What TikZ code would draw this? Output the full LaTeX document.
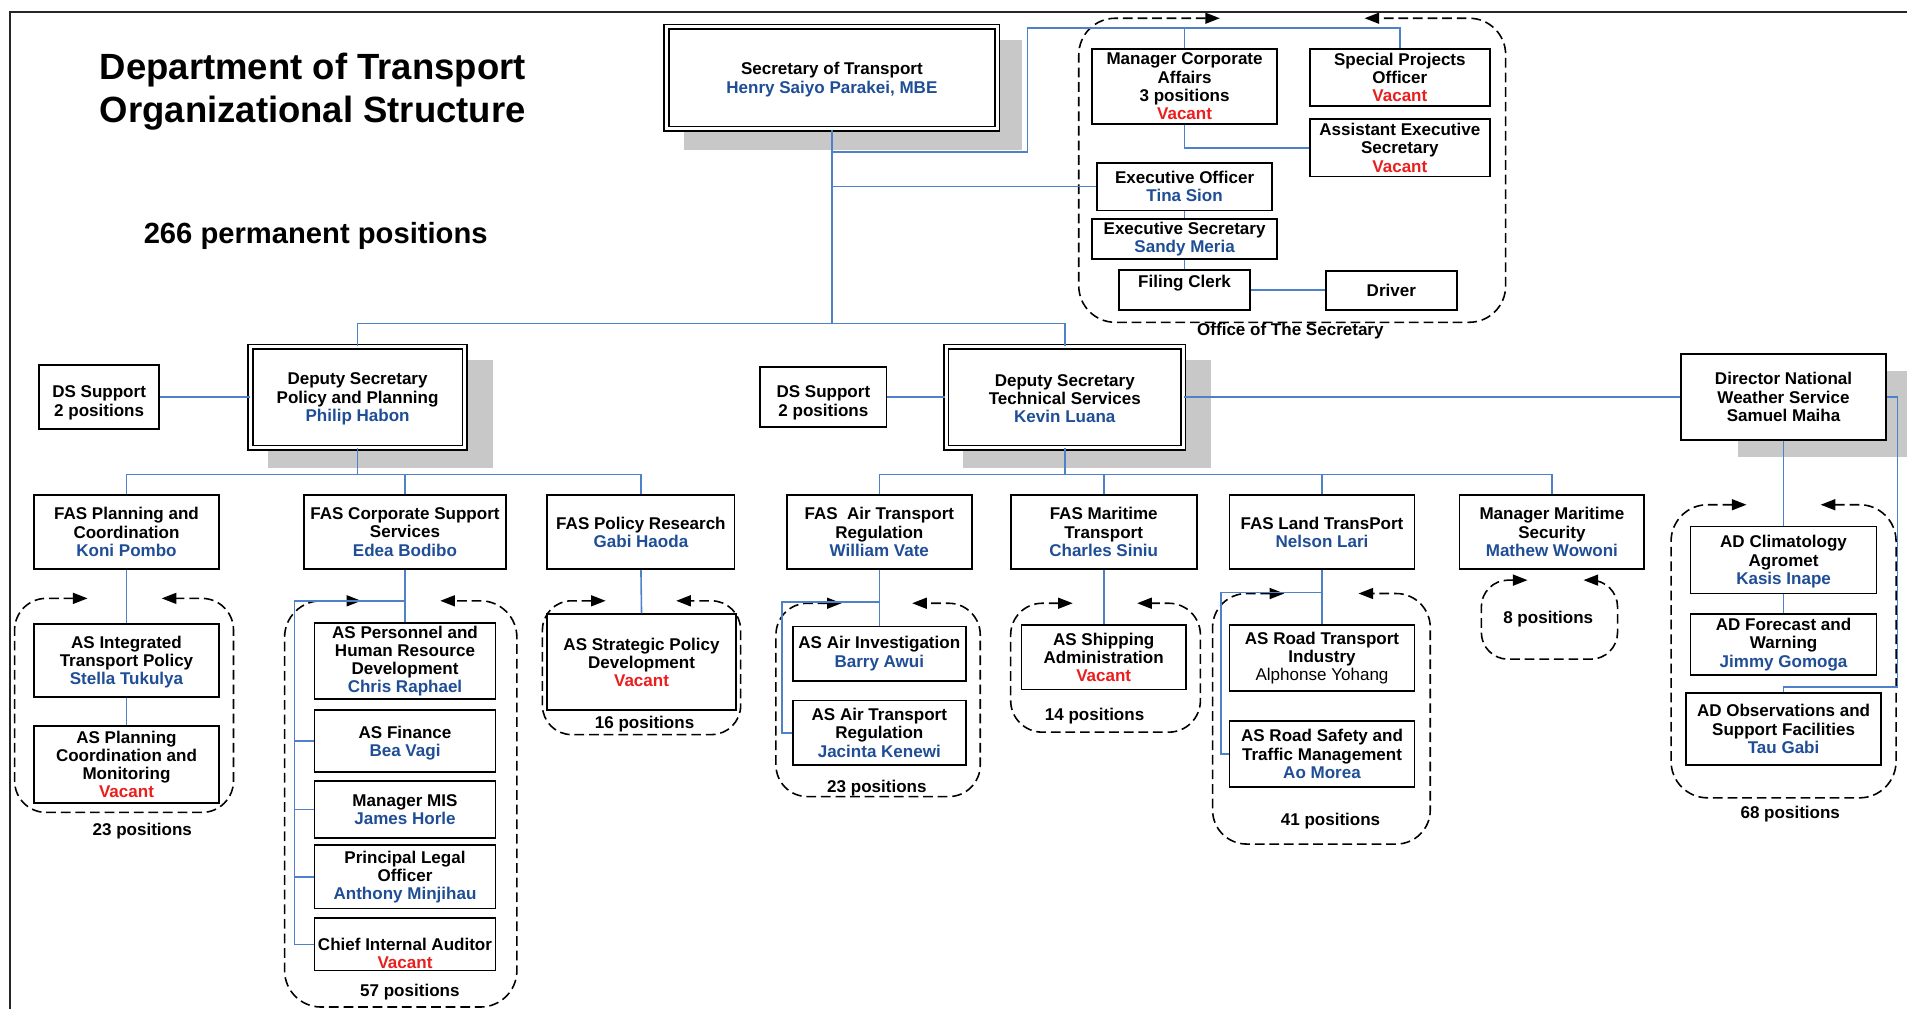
\documentclass[tikz,border=0pt]{standalone}
\usepackage{fontspec}
\setmainfont{Liberation Sans}
\usetikzlibrary{arrows.meta}
\definecolor{nameblue}{RGB}{31,78,150}
\definecolor{vacred}{RGB}{235,30,30}
\definecolor{linkblue}{RGB}{79,129,200}
\definecolor{shadowgray}{RGB}{200,200,200}
\newcommand\nm[1]{\textcolor{nameblue}{#1}}
\newcommand\vac{\textcolor{vacred}{Vacant}}
\newcommand\grpbox[7]{\draw[grp, rounded corners=#7] (#5,#2) -- (#1,#2) -- (#1,#4) -- (#3,#4) -- (#3,#2) -- (#6,#2);}
\begin{document}
\begin{tikzpicture}[x=1pt,y=-1pt,
  box/.style={draw=black, line width=1.4pt, fill=white, align=center, inner sep=1pt, font=\fontsize{14}{15}\selectfont\bfseries},
  dbox/.style={box, double=white, double distance=2.4pt, line width=1.3pt},
  link/.style={draw=linkblue, line width=1.3pt},
  grp/.style={draw=black, line width=1.3pt, dash pattern=on 8pt off 4pt, {Triangle[length=12pt,width=9pt]}-{Triangle[length=12pt,width=9pt]}},
  shade/.style={fill=shadowgray, draw=none},
  lbl/.style={font=\fontsize{14}{15}\selectfont\bfseries, inner sep=0pt}
]
\useasboundingbox (0,0) rectangle (1568,830);
\fill[white] (0,0) rectangle (1568,830);
% frame
\draw[line width=1.8pt, black!85] (8,830) -- (8,10) -- (1568,10);

% titles
\node[anchor=base west, inner sep=0pt, font=\fontsize{30}{36}\selectfont\bfseries] (title1) at (82,65) {Department of Transport};
\node[anchor=base west, inner sep=0pt, font=\fontsize{30}{36}\selectfont\bfseries] (title2) at (82,101) {Organizational Structure};
\node[anchor=base west, inner sep=0pt, font=\fontsize{24}{28}\selectfont\bfseries] (perm) at (118,200) {266 permanent positions};

% shadows
\fill[shade] (562,33) rectangle (840,123);
\fill[shade] (220,296) rectangle (405,385);
\fill[shade] (792,296) rectangle (996,385);
\fill[shade] (1429,305) rectangle (1568,376);

% dashed groups
\grpbox{887}{15}{1238}{265}{1003}{1122}{30pt}
\grpbox{12}{492}{192}{668}{72}{133}{26pt}
\grpbox{234}{494}{425}{828}{297}{362}{30pt}
\grpbox{446}{494}{609}{604}{498}{556}{24pt}
\grpbox{638}{496}{806}{655}{692}{750}{26pt}
\grpbox{831}{496}{987}{602}{882}{935}{26pt}
\grpbox{997}{488}{1176}{694}{1056}{1117}{28pt}
\grpbox{1218}{477}{1330}{542}{1256}{1302}{22pt}
\grpbox{1374}{415}{1559}{656}{1436}{1497}{30pt}

% secretary and office
\node[dbox, minimum width=272pt, minimum height=84pt] (sec) at (684,64) {\rule{0pt}{13pt}Secretary of Transport\\\nm{Henry Saiyo Parakei, MBE}};
\node[box, minimum width=152pt, minimum height=62pt] (mca) at (974,71) {Manager Corporate\\Affairs\\3 positions\\\vac};
\node[box, minimum width=148pt, minimum height=47pt] (spo) at (1151,63.5) {Special Projects\\Officer\\\vac};
\node[box, minimum width=148pt, minimum height=47pt] (aes) at (1151,121.5) {Assistant Executive\\Secretary\\\vac};
\node[box, minimum width=144pt, minimum height=39pt] (eo) at (974,153.5) {Executive Officer\\\nm{Tina Sion}};
\node[box, minimum width=152pt, minimum height=33pt] (es) at (974,196.5) {Executive Secretary\\\nm{Sandy Meria}};
\node[box, minimum width=108pt, minimum height=33pt] (fc) at (974,238.5) {Filing Clerk\\\phantom{X}};
\node[box, minimum width=108pt, minimum height=32pt] (drv) at (1144,239) {Driver};
\node[lbl] (office) at (1061,272) {Office of The Secretary};

% deputies
\node[dbox, minimum width=176pt, minimum height=83pt] (dspp) at (294,326.5) {\rule{0pt}{13pt}Deputy Secretary\\Policy and Planning\\\nm{Philip Habon}};
\node[box, minimum width=99pt, minimum height=53pt] (dss1) at (81.5,326.5) {\rule{0pt}{19pt}DS Support\\2 positions};
\node[dbox, minimum width=195pt, minimum height=83pt] (dsts) at (875.5,326.5) {\rule{0pt}{12pt}Deputy Secretary\\Technical Services\\\nm{Kevin Luana}};
\node[box, minimum width=104pt, minimum height=49pt] (dss2) at (677,326.5) {\rule{0pt}{19pt}DS Support\\2 positions};
\node[box, minimum width=169pt, minimum height=71pt] (dnws) at (1466.5,326.5) {Director National\\Weather Service\\Samuel Maiha};

% FAS row
\node[box, minimum width=152pt, minimum height=61pt] (fasplan) at (104,437.5) {FAS Planning and\\Coordination\\\nm{Koni Pombo}};
\node[box, minimum width=166pt, minimum height=61pt] (fascorp) at (333,437.5) {FAS Corporate Support\\Services\\\nm{Edea Bodibo}};
\node[box, minimum width=154pt, minimum height=61pt] (faspol) at (527,437.5) {FAS Policy Research\\\nm{Gabi Haoda}};
\node[box, minimum width=152pt, minimum height=61pt] (fasair) at (723,437.5) {FAS\ \ Air Transport\\Regulation\\\nm{William Vate}};
\node[box, minimum width=153pt, minimum height=61pt] (fasmar) at (907.5,437.5) {FAS Maritime\\Transport\\\nm{Charles Siniu}};
\node[box, minimum width=152pt, minimum height=61pt] (fasland) at (1087,437.5) {FAS Land TransPort\\\nm{Nelson Lari}};
\node[box, minimum width=152pt, minimum height=61pt] (mms) at (1276,437.5) {Manager Maritime\\Security\\\nm{Mathew Wowoni}};

% group 1
\node[box, minimum width=152pt, minimum height=60pt] (asint) at (104,543) {\rule{0pt}{13pt}AS Integrated\\Transport Policy\\\nm{Stella Tukulya}};
\node[box, minimum width=152pt, minimum height=63pt] (asplan) at (104,628.5) {AS Planning\\Coordination and\\Monitoring\\\vac};
\node[lbl] (pos1) at (117,683) {23 positions};

% group 2
\node[box, minimum width=149pt, minimum height=63pt] (aspers) at (333,543.5) {AS Personnel and\\Human Resource\\Development\\\nm{Chris Raphael}};
\node[box, minimum width=149pt, minimum height=51pt] (asfin) at (333,609.5) {\rule{0pt}{13pt}AS Finance\\\nm{Bea Vagi}};
\node[box, minimum width=149pt, minimum height=47pt] (mis) at (333,665.5) {Manager MIS\\\nm{James Horle}};
\node[box, minimum width=149pt, minimum height=52pt] (legal) at (333,721) {Principal Legal\\Officer\\\nm{Anthony Minjihau}};
\node[box, minimum width=149pt, minimum height=43pt] (audit) at (333,776.5) {\phantom{X}\\Chief Internal Auditor\\\vac};
\node[lbl] (pos2) at (337,816) {57 positions};

% group 3
\node[box, minimum width=155pt, minimum height=79pt] (asstrat) at (527.5,544.5) {AS Strategic Policy\\Development\\\vac};
\node[lbl] (pos3) at (530,595) {16 positions};

% group 4
\node[box, minimum width=142pt, minimum height=45pt] (asairinv) at (723,537.5) {AS Air Investigation\\\nm{Barry Awui}};
\node[box, minimum width=142pt, minimum height=53pt] (asairreg) at (723,602.5) {AS Air Transport\\Regulation\\\nm{Jacinta Kenewi}};
\node[lbl] (pos4) at (721,648) {23 positions};

% group 5
\node[box, minimum width=135pt, minimum height=53pt] (asship) at (907.5,540.5) {AS Shipping\\Administration\\\vac};
\node[lbl] (pos5) at (900,589) {14 positions};

% group 6
\node[box, minimum width=152pt, minimum height=54pt] (asroad) at (1087,541) {AS Road Transport\\Industry\\{\mdseries Alphonse Yohang}};
\node[box, minimum width=152pt, minimum height=54pt] (assafety) at (1087,620) {AS Road Safety and\\Traffic Management\\\nm{Ao Morea}};
\node[lbl] (pos6) at (1094,675) {41 positions};

% group 7
\node[lbl] (pos7) at (1273,509) {8 positions};

% group 8
\node[box, minimum width=153pt, minimum height=55pt] (adclim) at (1466.5,460.5) {\rule{0pt}{13pt}AD Climatology\\Agromet\\\nm{Kasis Inape}};
\node[box, minimum width=153pt, minimum height=50pt] (adfore) at (1466.5,530) {AD Forecast and\\Warning\\\nm{Jimmy Gomoga}};
\node[box, minimum width=160pt, minimum height=59pt] (adobs) at (1466.5,599.5) {AD Observations and\\Support Facilities\\\nm{Tau Gabi}};
\node[lbl] (pos8) at (1472,669) {68 positions};

% ---------- connectors ----------
\coordinate (secbus) at (684,266);
\coordinate (secmid) at (684,125);
\coordinate (topcorner) at (845,23);
\draw[link] (sec.south) -- (secbus);
\draw[link] (secbus) -| (dspp.north);
\draw[link] (secbus) -| (dsts.north);
\draw[link] (secmid) -| (topcorner) -| (mca.north);
\draw[link] (topcorner) -| (spo.north);
\draw[link] (sec.south |- eo.west) -- (eo.west);
\draw[link] (mca.south) |- (aes.west);
\draw[link] (eo.south) -- (es.north);
\draw[link] (es.south) -- (fc.north);
\draw[link] (fc.east) -- (fc.east -| drv.west);

\draw[link] (dss1.east) -- (dspp.west);
\draw[link] (dss2.east) -- (dsts.west);
\draw[link] (dsts.east) -- (dnws.west);

\coordinate (ppbus) at (294,390);
\draw[link] (dspp.south) -- (ppbus);
\draw[link] (ppbus) -| (fasplan.north);
\draw[link] (ppbus) -| (fascorp.north);
\draw[link] (ppbus) -| (faspol.north);

\coordinate (tsbus) at (875.5,390);
\draw[link] (dsts.south) -- (tsbus);
\draw[link] (tsbus) -| (fasair.north);
\draw[link] (tsbus) -| (fasmar.north);
\draw[link] (tsbus) -| (fasland.north);
\draw[link] (tsbus) -| (mms.north);

\draw[link] (fasplan.south) -- (asint.north);
\draw[link] (asint.south) -- (asplan.north);

\coordinate (corpj) at (333,494);
\coordinate (corptrunk) at (242,494);
\draw[link] (fascorp.south) -- (aspers.north);
\draw[link] (corpj) -- (corptrunk) |- (asfin.west);
\draw[link] (corptrunk) |- (mis.west);
\draw[link] (corptrunk) |- (legal.west);
\draw[link] (corptrunk) |- (audit.west);

\draw[link] (faspol.south) -- (asstrat.north);

\coordinate (airj) at (723,495);
\coordinate (airtrunk) at (643,495);
\draw[link] (fasair.south) -- (asairinv.north);
\draw[link] (airj) -- (airtrunk) |- (asairreg.west);

\draw[link] (fasmar.south) -- (asship.north);

\coordinate (landj) at (1087,487);
\coordinate (landtrunk) at (1004,487);
\draw[link] (fasland.south) -- (asroad.north);
\draw[link] (landj) -- (landtrunk) |- (assafety.west);

\coordinate (wxcorner) at (1560,565);
\draw[link] (dnws.south) -- (adclim.north);
\draw[link] (adclim.south) -- (adfore.north);
\draw[link] (dnws.east) -| (wxcorner) -| (adobs.north);
\end{tikzpicture}
\end{document}
